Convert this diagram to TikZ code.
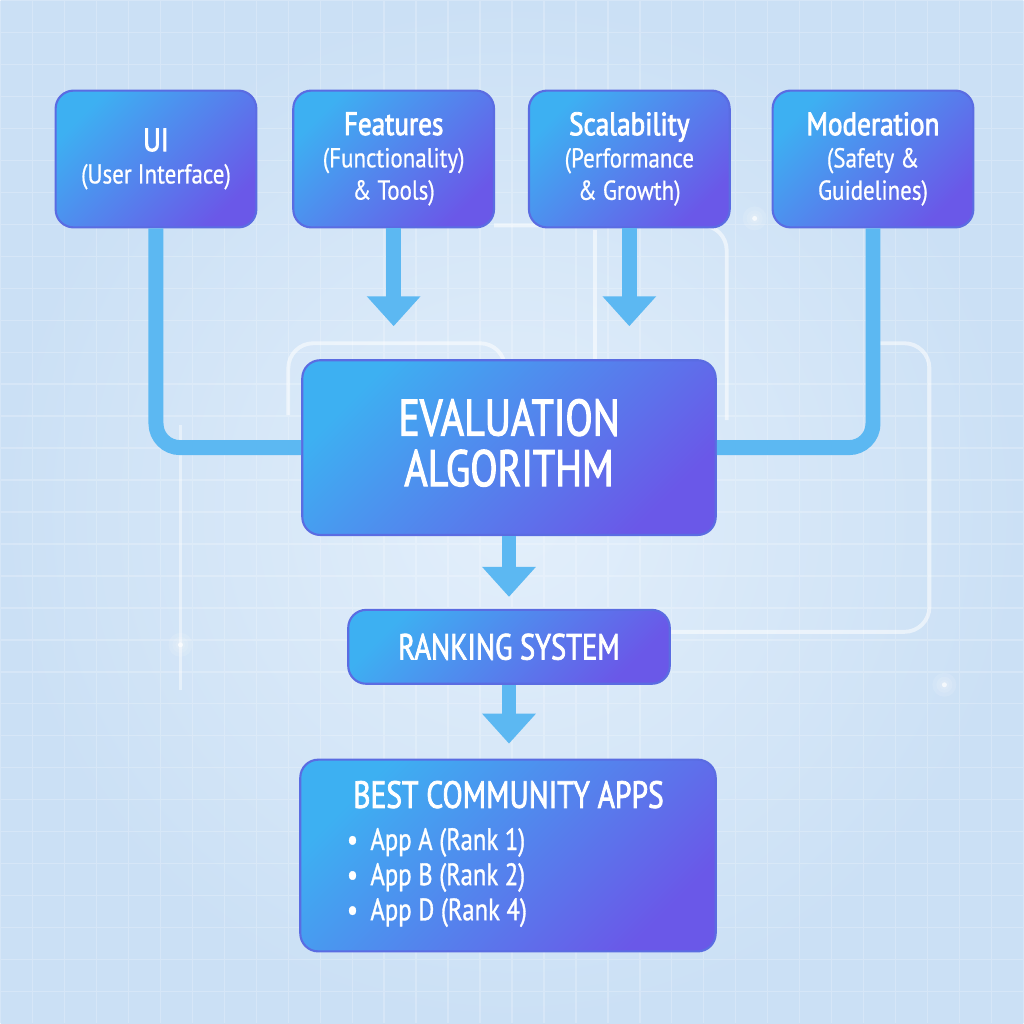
\documentclass[tikz,border=0pt]{standalone}
\usepackage{fontspec}
\setmainfont{PT Sans}[FakeStretch=0.84, FakeBold=0.6]
\newfontfamily\gras{PT Sans}[FakeStretch=0.84, FakeBold=2.5]
\newfontfamily\capit{PT Sans}[FakeStretch=0.78, FakeBold=2]
\newfontfamily\liste{PT Sans}[FakeStretch=0.8, FakeBold=1]
\usetikzlibrary{arrows.meta,positioning}

\definecolor{fond}{HTML}{CBE0F5}
\definecolor{fondclair}{HTML}{E3EFFB}
\definecolor{bleuA}{HTML}{3DB0F2}
\definecolor{violetA}{HTML}{6A58E8}
\definecolor{bord}{HTML}{5A6CE2}
\definecolor{cyanlien}{HTML}{5CB8F2}

\newcommand{\titre}{\gras\fontsize{9.2}{10}\selectfont}

\begin{document}
\begin{tikzpicture}[
    boite/.style={rounded corners=0.18cm, top color=bleuA, bottom color=violetA,
        shading angle=45, draw=bord, line width=0.6pt, text=white, align=center,
        inner sep=0pt},
    haut/.style={boite, minimum width=2.01cm, minimum height=1.37cm,
        font=\fontsize{7.8}{9.2}\selectfont},
    lien/.style={draw=cyanlien, line width=0.15cm, rounded corners=0.24cm},
    fleche/.style={lien, -{Triangle[length=0.3cm, width=0.52cm]}},
    deco/.style={white, opacity=0.55, line width=1.1pt, rounded corners=0.25cm},
    lueur/.style={white, opacity=0.12}
]
    % Fond
    \shade[inner color=fondclair, outer color=fond] (0,0) rectangle (10.24,-10.24);
    \draw[white, opacity=0.22, line width=0.4pt, step=0.32] (0,-10.24) grid (10.24,0);

    % Lignes decoratives
    \draw[deco] (2.88,-4.15) -- (2.88,-3.43) -- (5.05,-3.43) -- (5.05,-3.6);
    \draw[deco] (4.94,-2.25) -- (7.27,-2.25) -- (7.27,-4.2);
    \draw[deco] (5.95,-2.3) -- (5.95,-3.6);
    \draw[deco] (8.8,-3.43) -- (9.3,-3.43) -- (9.3,-6.32) -- (6.7,-6.32);
    \draw[white, opacity=0.45, line width=1.1pt] (1.8,-4.25) -- (1.8,-6.9);
    \foreach \point in {(7.55,-2.18), (1.8,-6.45), (9.45,-6.85)} {
        \fill[lueur] \point circle (0.12);
        \fill[lueur] \point circle (0.08);
        \fill[lueur] \point circle (0.05);
        \fill[white, opacity=0.7] \point circle (0.025);
    }

    % Criteres
    \node[haut] (ui) at (1.555,-1.585) {{\titre UI}\\(User Interface)};
    \node[haut] (feat) at (3.935,-1.585) {{\titre Features}\\(Functionality)\\\& Tools)};
    \node[haut] (scal) at (6.295,-1.585) {{\titre Scalability}\\(Performance\\\& Growth)};
    \node[haut] (mod) at (8.735,-1.585) {{\titre Moderation}\\(Safety \&\\Guidelines)};

    % Algorithme et classement
    \node[boite, minimum width=4.14cm, minimum height=1.75cm, text depth=0.1cm,
        font=\capit\fontsize{14.6}{14.4}\selectfont] (eval) at (5.09,-4.475)
        {EVALUATION\\ALGORITHM};
    \node[boite, minimum width=3.22cm, minimum height=0.74cm,
        font=\capit\fontsize{10.4}{12}\selectfont] (rank) at (5.09,-6.47) {RANKING SYSTEM};
    \node[boite, minimum width=4.16cm, minimum height=1.92cm] (best) at (5.08,-8.56) {};
    \node[text=white, font=\capit\fontsize{10.8}{12}\selectfont] (besttitre) at (5.085,-7.95)
        {BEST COMMUNITY APPS};
    \node[text=white, align=left, anchor=west, font=\liste\fontsize{8.8}{10}\selectfont,
        inner sep=0pt] (bestliste) at (3.46,-8.78)
        {\textbullet\hspace{0.4em}App A (Rank 1)\\
         \textbullet\hspace{0.4em}App B (Rank 2)\\
         \textbullet\hspace{0.4em}App D (Rank 4)};

    % Connexions
    \draw[lien] (ui.south) |- (eval.west);
    \draw[lien] (mod.south) |- (eval.east);
    \draw[fleche, shorten >=0.33cm] (feat.south) -- (feat.south |- eval.north);
    \draw[fleche, shorten >=0.33cm] (scal.south) -- (scal.south |- eval.north);
    \draw[fleche, shorten >=0.12cm] (eval.south) -- (rank.north);
    \draw[fleche, shorten >=0.15cm] (rank.south) -- (rank.south |- best.north);
\end{tikzpicture}
\end{document}
